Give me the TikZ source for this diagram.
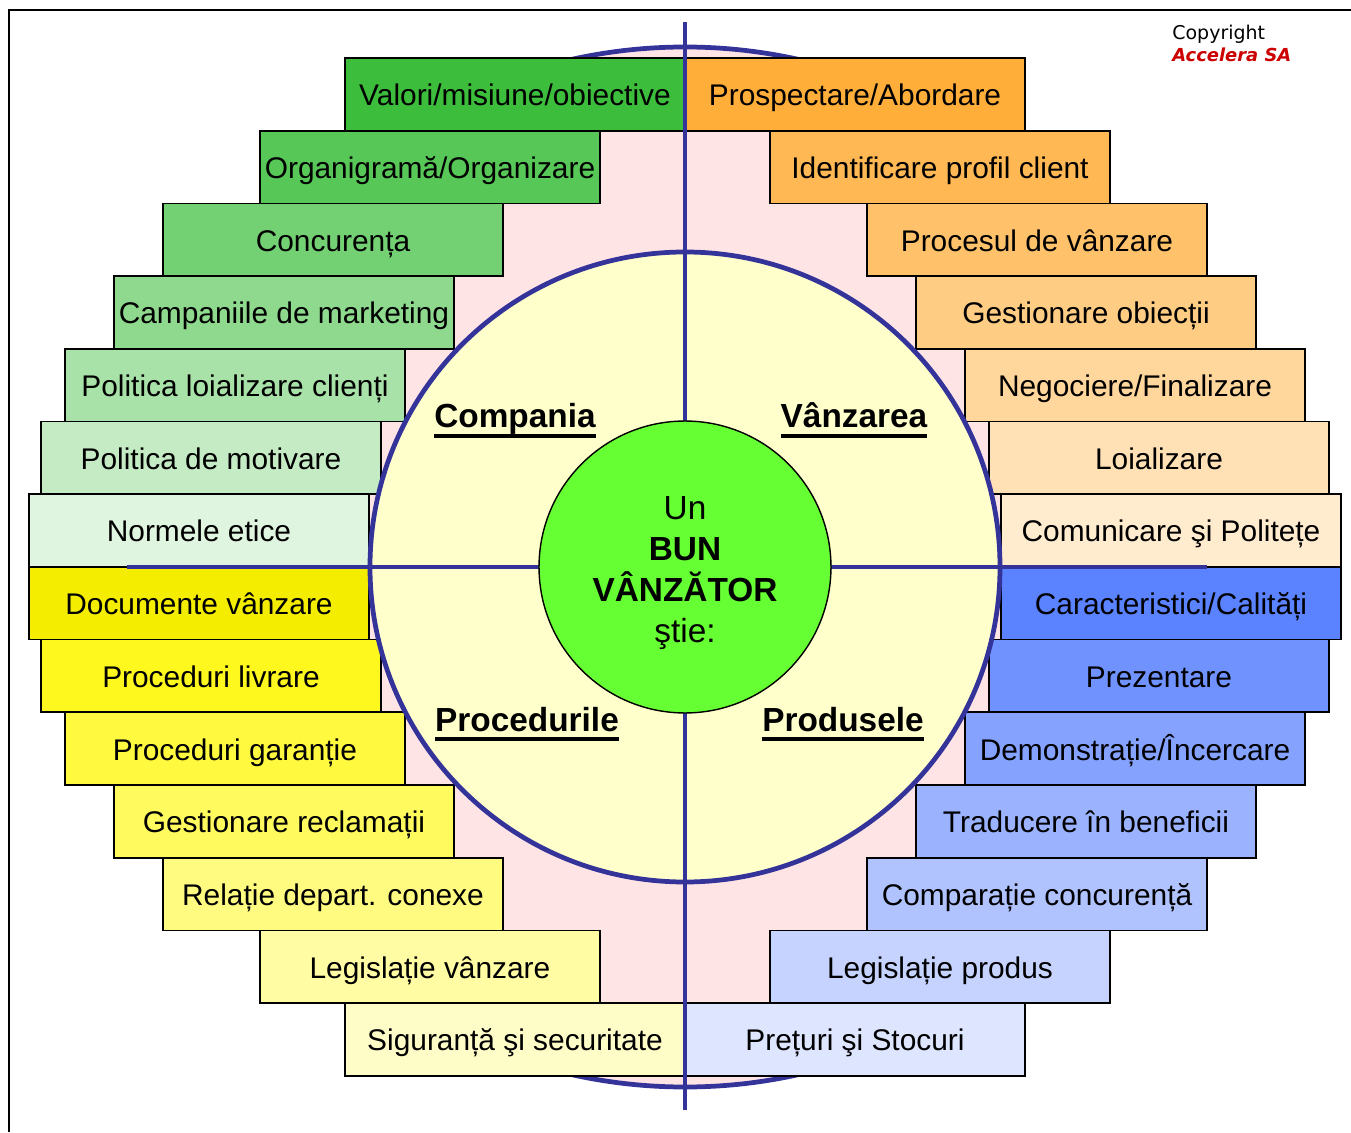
\documentclass[tikz,border=0pt]{standalone}
\usepackage{fontspec}
\setmainfont{Liberation Sans}
\newfontfamily\copyfont{DejaVu Sans}

\definecolor{lineblue}{HTML}{333399}
\definecolor{ringpink}{HTML}{FFE4E6}
\definecolor{discyellow}{HTML}{FFFFCC}
\definecolor{coregreen}{HTML}{66FF33}
\definecolor{compgreen}{HTML}{3CBE3C}
\definecolor{procyellow}{HTML}{FFF700}
\definecolor{salesorange}{HTML}{FFAE3A}
\definecolor{prodblue}{HTML}{5B82FF}
\definecolor{copyred}{HTML}{CC0000}

\newcommand{\ulhead}[1]{\setbox0=\hbox{#1}\rlap{\rule[-5.5pt]{\wd0}{2.2pt}}\box0}

\tikzset{
    topic/.style={draw=black, line width=1pt, minimum width=6.8cm, minimum height=1.454cm,
        inner sep=0pt, text height=17pt, text depth=4pt, font=\fontsize{17}{20}\selectfont},
    divider/.style={draw=lineblue, line width=2.7pt},
    quarter/.style={anchor=base, inner sep=0pt, font=\fontsize{19}{23}\selectfont\bfseries},
}

\begin{document}
\begin{tikzpicture}[x=0.02cm,y=0.02cm]
        \useasboundingbox (-685,-565) rectangle (666,567);
        % frame
        \draw[line width=1.2pt] (-676,-565) -- (-676,557) -- (666,557);
        % outer ring
        \draw[divider, fill=ringpink] (0,0) circle (520);
        % left column
        \begin{scope}[every node/.style=topic]
            \foreach \row/\dx/\col/\txt in {
                1/170/compgreen/{Valori/misiune/obiective},
                2/255/compgreen!86!white/{Organigramă/Organizare},
                3/352/compgreen!72!white/{Concurența},
                4/401/compgreen!58!white/{Campaniile de marketing},
                5/450/compgreen!44!white/{Politica loializare clienți},
                6/474/compgreen!30!white/{Politica de motivare},
                7/486/compgreen!16!white/{Normele etice},
                8/486/procyellow!96!black/{Documente vânzare},
                9/474/procyellow!88!white/{Proceduri livrare},
                10/450/procyellow!75!white/{Proceduri garanție},
                11/401/procyellow!63!white/{Gestionare reclamații},
                12/352/procyellow!50!white/{Relație depart. conexe},
                13/255/procyellow!36!white/{Legislație vânzare},
                14/170/procyellow!22!white/{Siguranță şi securitate}}
                \node[fill=\col] (L\row) at (-\dx,{509-(\row-0.5)*72.7}) {\txt};
        % right column
            \foreach \row/\dx/\col/\txt in {
                1/170/salesorange/{Prospectare/Abordare},
                2/255/salesorange!87.5!white/{Identificare profil client},
                3/352/salesorange!75!white/{Procesul de vânzare},
                4/401/salesorange!62.5!white/{Gestionare obiecții},
                5/450/salesorange!50!white/{Negociere/Finalizare},
                6/474/salesorange!37.5!white/{Loializare},
                7/486/salesorange!25!white/{Comunicare şi Politețe},
                8/486/prodblue/{Caracteristici/Calități},
                9/474/prodblue!87!white/{Prezentare},
                10/450/prodblue!74!white/{Demonstrație/Încercare},
                11/401/prodblue!61!white/{Traducere în beneficii},
                12/352/prodblue!48!white/{Comparație concurență},
                13/255/prodblue!35!white/{Legislație produs},
                14/170/prodblue!21!white/{Prețuri şi Stocuri}}
                \node[fill=\col] (R\row) at (\dx,{509-(\row-0.5)*72.7}) {\txt};
        \end{scope}
        % inner disc and axes
        \draw[divider, fill=discyellow] (0,0) circle (315);
        \coordinate (axtop) at (0,545);
        \coordinate (axbot) at (0,-543);
        \coordinate (axleft) at (-558,0);
        \coordinate (axright) at (522,0);
        \draw[divider] (axtop) -- (axbot);
        \draw[divider] (axleft) -- (axright);
        % quarter titles
        \node[quarter] (compania) at (-170,139) {\ulhead{Compania}};
        \node[quarter] (vanzarea) at (169,139) {\ulhead{Vânzarea}};
        \node[quarter] (procedurile) at (-158,-164) {\ulhead{Procedurile}};
        \node[quarter] (produsele) at (158,-164) {\ulhead{Produsele}};
        % centre
        \node[circle, draw=black, line width=0.8pt, fill=coregreen, minimum size=5.84cm] (core) at (0,0) {};
        \node[align=center, font=\fontsize{19}{23.2}\selectfont] (coretext) at (0,-6)
            {Un\\\textbf{BUN}\\\textbf{VÂNZĂTOR}\\ştie:};
        % copyright
        \node[anchor=west, inner sep=0pt, font=\copyfont\fontsize{10.8}{13}\selectfont] (copy) at (487,533) {Copyright};
        \node[anchor=west, inner sep=0pt, text=copyred, font=\copyfont\fontsize{10.2}{12}\selectfont\bfseries\itshape] (firm) at (487,512) {Accelera SA};
    \end{tikzpicture}
\end{document}
